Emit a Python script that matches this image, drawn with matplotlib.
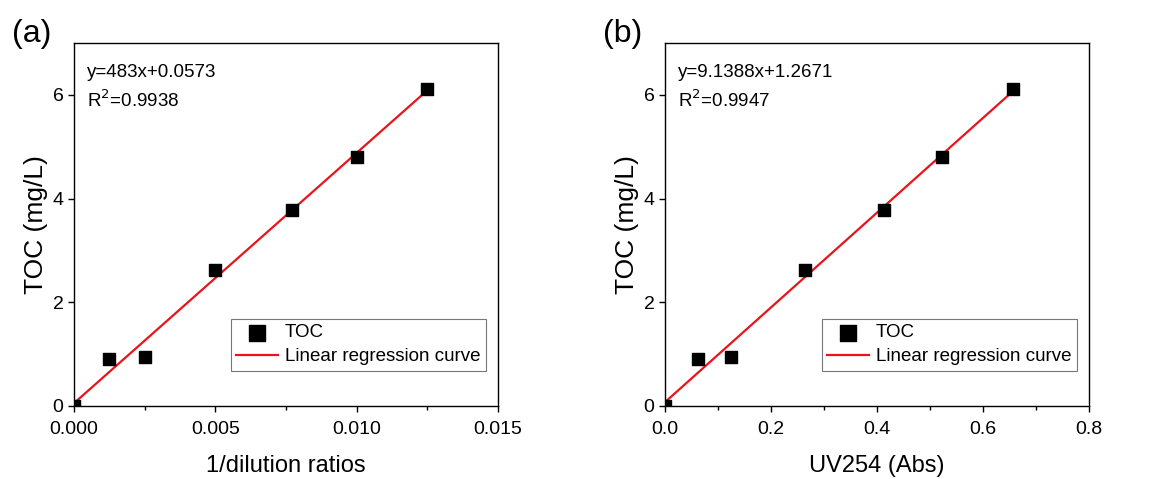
import numpy as np
import matplotlib
matplotlib.use("Agg")
import matplotlib.pyplot as plt

plt.rcParams['font.family'] = ['Liberation Sans', 'DejaVu Sans']

# measured data
toc = [0.0, 0.90, 0.95, 2.63, 3.78, 4.80, 6.12]
inv_dilution = [0.0, 0.00125, 0.0025, 0.005, 0.0077, 0.010, 0.0125]
uv254 = [0.0, 0.062, 0.124, 0.265, 0.413, 0.522, 0.657]

eq_a = ["y=483x+0.0573", "R$^2$=0.9938"]
eq_b = ["y=9.1388x+1.2671", "R$^2$=0.9947"]

fig = plt.figure(figsize=(11.73, 4.79), dpi=100)

def panel(rect, x, y, xlim, xticks, xminor, xfmt, xlabel, eq, tag):
    ax = fig.add_axes(rect)
    ax.scatter(x, y, marker='s', s=70, color='black', zorder=3, label='TOC')
    k, b = np.polyfit(x, y, 1)
    xs = np.array([x[0], x[-1]])
    ax.plot(xs, k * xs + b, color='#e8141b', lw=1.6, zorder=2,
            label='Linear regression curve')
    ax.set_xlim(*xlim)
    ax.set_ylim(0, 7)
    ax.set_xticks(xticks)
    ax.set_xticks(xminor, minor=True)
    ax.set_xticklabels([xfmt.format(v) for v in xticks])
    ax.set_yticks([0, 2, 4, 6])
    ax.tick_params(which='major', direction='out', length=4, width=1, labelsize=14)
    ax.tick_params(axis='x', which='major', pad=7)
    ax.tick_params(which='minor', direction='out', length=3, width=1)
    ax.set_xlabel(xlabel, fontsize=17, labelpad=12)
    ax.set_ylabel('TOC (mg/L)', fontsize=19, labelpad=3)
    for s in ax.spines.values():
        s.set_linewidth(1.0)
    ax.text(0.03, 0.92, eq[0], transform=ax.transAxes, fontsize=13.5, va='center')
    ax.text(0.03, 0.843, eq[1], transform=ax.transAxes, fontsize=13.5, va='center')
    leg = ax.legend(loc='lower right', bbox_to_anchor=(0.972, 0.097), fontsize=13.5,
                    frameon=True, fancybox=False, edgecolor='#555555',
                    handlelength=2.2, handletextpad=0.4, borderpad=0.3,
                    labelspacing=0.35, markerscale=1.4, borderaxespad=0)
    leg.get_frame().set_linewidth(0.8)
    fig.text(rect[0] - 0.053, 0.96, tag, fontsize=23, va='top')
    return ax

panel([74 / 1173, 73 / 479, 424 / 1173, 363 / 479], inv_dilution, toc,
      (0, 0.015), [0, 0.005, 0.010, 0.015], [0.0025, 0.0075, 0.0125],
      "{:.3f}", "1/dilution ratios", eq_a, "(a)")
panel([665 / 1173, 73 / 479, 424 / 1173, 363 / 479], uv254, toc,
      (0, 0.8), [0, 0.2, 0.4, 0.6, 0.8], [0.1, 0.3, 0.5, 0.7],
      "{:.1f}", "UV254 (Abs)", eq_b, "(b)")

fig.savefig("out.png", dpi=100)
